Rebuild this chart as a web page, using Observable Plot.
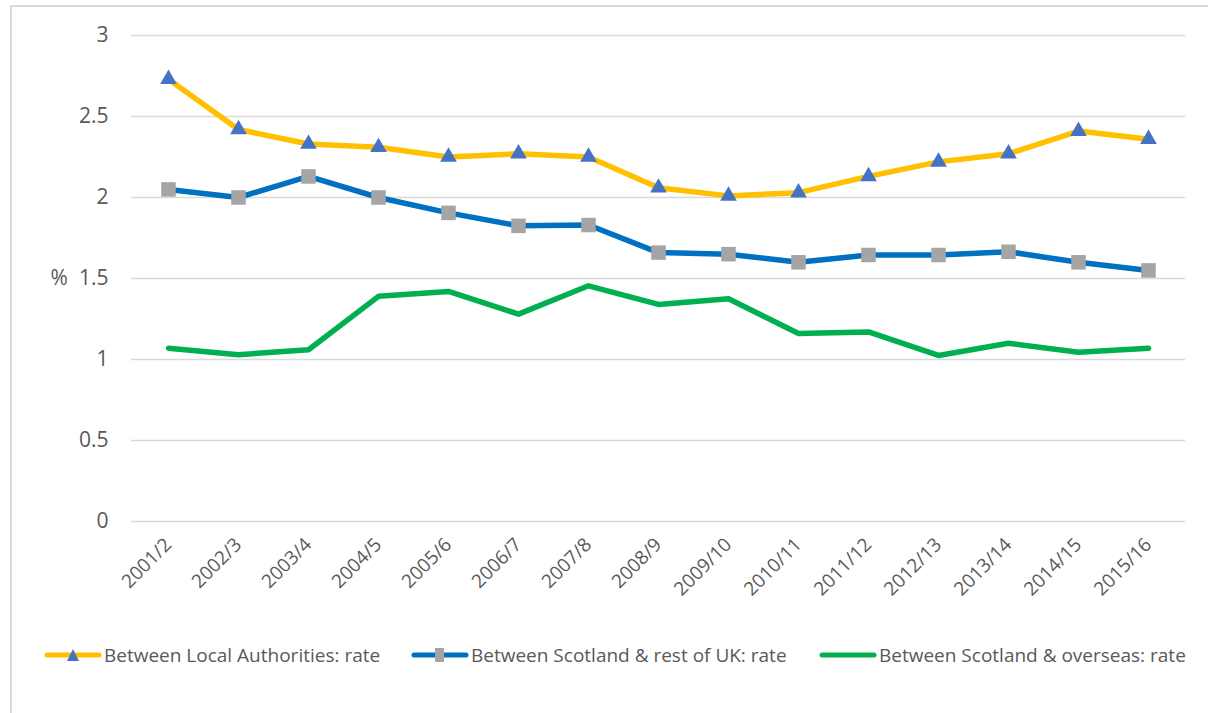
<!DOCTYPE html>
<html>
<head>
<meta charset="utf-8">
<script src="https://cdn.jsdelivr.net/npm/d3@7"></script>
<script src="https://cdn.jsdelivr.net/npm/@observablehq/plot@0.6"></script>
<style>
  html, body { margin: 0; padding: 0; background: #fff; }
  body { width: 1208px; height: 713px; overflow: hidden; position: relative; font-family: "Open Sans", sans-serif; }
  #frame { position: absolute; left: 10px; top: 5px; width: 1300px; height: 800px; border-left: 2px solid #D9D9D9; border-top: 2px solid #D9D9D9; }
  #chart { position: absolute; left: 0; top: 0; }
  #chart g[aria-label="y-axis tick label"] { font-size: 21px; }
  #chart g[aria-label="x-axis tick label"] { font-size: 19px; }
  #legend { position: absolute; left: 0; top: 642px; width: 1208px; height: 30px; }
  .lg { position: absolute; top: 0; display: flex; align-items: center; font-size: 19px; color: #595959; white-space: nowrap; }
  .lg svg { display: block; margin-right: 2px; }
</style>
</head>
<body>
<div id="frame"></div>
<div id="chart"></div>
<div id="legend"></div>
<script>
const years = ["2001/2","2002/3","2003/4","2004/5","2005/6","2006/7","2007/8","2008/9","2009/10","2010/11","2011/12","2012/13","2013/14","2014/15","2015/16"];
const localAuthorities = [2.73, 2.42, 2.33, 2.31, 2.25, 2.27, 2.25, 2.06, 2.01, 2.03, 2.13, 2.22, 2.27, 2.41, 2.36];
const restOfUK = [2.05, 2.00, 2.13, 2.00, 1.905, 1.825, 1.83, 1.66, 1.65, 1.60, 1.645, 1.645, 1.665, 1.60, 1.55];
const overseas = [1.07, 1.03, 1.06, 1.39, 1.42, 1.28, 1.455, 1.34, 1.375, 1.16, 1.17, 1.025, 1.10, 1.045, 1.07];
const seriesNames = ["Between Local Authorities: rate", "Between Scotland & rest of UK: rate", "Between Scotland & overseas: rate"];
const yTicks = [0, 0.5, 1, 1.5, 2, 2.5, 3];

const la = years.map((y, i) => ({year: y, value: localAuthorities[i]}));
const uk = years.map((y, i) => ({year: y, value: restOfUK[i]}));
const os = years.map((y, i) => ({year: y, value: overseas[i]}));

const textColor = "#595959";
const chart = Plot.plot({
  width: 1208,
  height: 625,
  marginTop: 35,
  marginBottom: 104,
  marginLeft: 131,
  marginRight: 23,
  style: {fontFamily: "'Open Sans', sans-serif", color: textColor, background: "transparent"},
  x: {type: "point", domain: years, padding: 0.5},
  y: {domain: [0, 3]},
  marks: [
    Plot.ruleY(yTicks, {stroke: "#D9D9D9", strokeWidth: 1.5}),
    Plot.axisY({ticks: yTicks, tickSize: 0, tickPadding: 23, fontSize: 21, fill: textColor, label: null, tickFormat: d => String(d)}),
    Plot.text(["%"], {frameAnchor: "left", y: () => 1.5, dx: -81, fontSize: 21, fill: textColor}),
    Plot.axisX({tickSize: 0, tickPadding: 20, tickRotate: -45, fontSize: 19, fill: textColor, label: null}),
    Plot.line(os, {x: "year", y: "value", stroke: "#00B050", strokeWidth: 5.5, strokeLinecap: "round", strokeLinejoin: "round"}),
    Plot.line(uk, {x: "year", y: "value", stroke: "#0070C0", strokeWidth: 5.5, strokeLinecap: "round", strokeLinejoin: "round"}),
    Plot.dot(uk, {x: "year", y: "value", symbol: "square", r: 8.2, fill: "#A5A5A5", stroke: null}),
    Plot.line(la, {x: "year", y: "value", stroke: "#FFC000", strokeWidth: 5.5, strokeLinecap: "round", strokeLinejoin: "round"}),
    Plot.dot(la, {x: "year", y: "value", symbol: "triangle", r: 6.2, fill: "#4472C4", stroke: null})
  ]
});
document.getElementById("chart").appendChild(chart);

// Legend
const legendDefs = [
  {name: seriesNames[0], color: "#FFC000", marker: "triangle", left: 44},
  {name: seriesNames[1], color: "#0070C0", marker: "square", left: 411},
  {name: seriesNames[2], color: "#00B050", marker: null, left: 819}
];
const legend = document.getElementById("legend");
for (const d of legendDefs) {
  const item = document.createElement("div");
  item.className = "lg";
  item.style.left = d.left + "px";
  let markerSvg = "";
  if (d.marker === "triangle") markerSvg = `<path d="M29,6 L35,18 L23,18 Z" fill="#4472C4"/>`;
  if (d.marker === "square") markerSvg = `<rect x="24" y="5" width="9" height="14" fill="#A5A5A5"/>`;
  item.innerHTML = `<svg width="58" height="24"><line x1="3" y1="12" x2="55" y2="12" stroke="${d.color}" stroke-width="5" stroke-linecap="round"/>${markerSvg}</svg><span>${d.name}</span>`;
  legend.appendChild(item);
}
</script>
</body>
</html>
